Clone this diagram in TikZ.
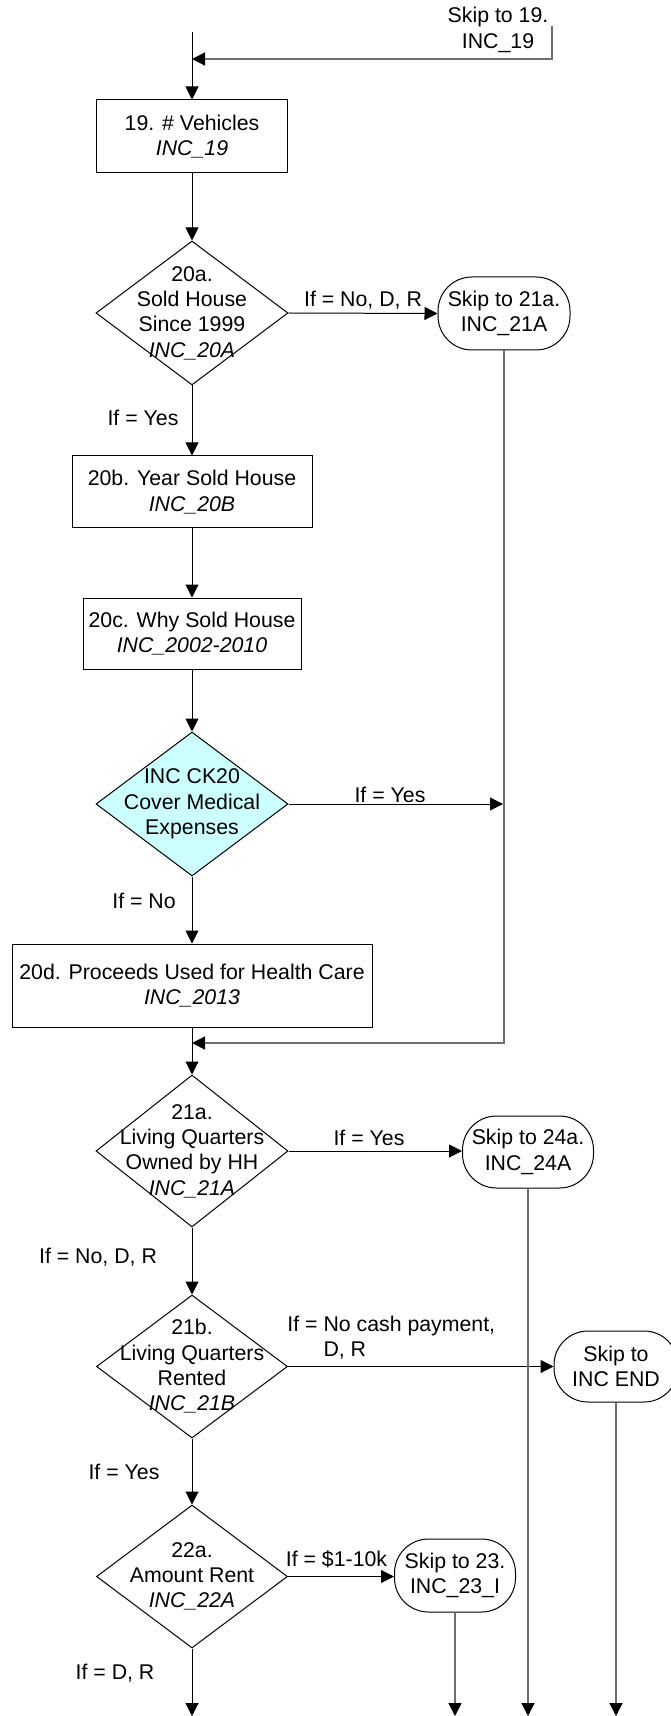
\documentclass[tikz,border=0pt]{standalone}
\usepackage{fontspec}
\setmainfont{Liberation Sans}
\usetikzlibrary{arrows.meta,shapes.geometric}
\definecolor{linegray}{RGB}{110,110,110}
\definecolor{ckcyan}{RGB}{204,255,255}
\newcommand{\flowfont}{\fontsize{10.65pt}{12.65pt}\selectfont}
\begin{document}
\begin{tikzpicture}[x=0.5pt,y=-0.5pt,
  base/.style={font=\flowfont, align=center, inner sep=0pt},
  proc/.style={base, draw=black, line width=0.5pt, rectangle},
  dec/.style={draw=black, line width=0.5pt, diamond, inner sep=0pt},
  skipbox/.style={base, draw=black, line width=0.5pt, rectangle, rounded corners=17pt},
  lbl/.style={base},
  arr/.style={draw=black, line width=0.5pt, -{Triangle[length=6.5pt,width=6.5pt]}},
  garr/.style={draw=linegray, line width=0.75pt, -{Triangle[length=6.5pt,width=6.5pt,color=black]}},
  gline/.style={draw=linegray, line width=0.75pt}
]
\useasboundingbox (0,0) rectangle (670,1716);

% top entry
\node[lbl] (skip19) at (498,30) {Skip to 19.\\INC\_19};
\coordinate (c19a) at (552,26);
\coordinate (c19m) at (192,59);
\coordinate (ctop) at (192,32);

% nodes
\node[proc, minimum width=95.5pt, minimum height=36.5pt] (b19) at (192,136.5) {19. \# Vehicles\\\textit{INC\_19}};
\node[dec, minimum width=96pt, minimum height=72pt] (d20a) at (192,313) {};
\node[lbl] (d20a-t) at (d20a) {20a.\\Sold House\\Since 1999\\\textit{INC\_20A}};
\node[skipbox, minimum width=66pt, minimum height=36.5pt] (s21a) at (504,313.5) {Skip to 21a.\\INC\_21A};
\node[proc, minimum width=120pt, minimum height=36pt] (b20b) at (192,492) {20b. Year Sold House\\\textit{INC\_20B}};
\node[proc, minimum width=109pt, minimum height=35.5pt] (b20c) at (192,633.5) {20c. Why Sold House\\\textit{INC\_2002-2010}};
\node[dec, fill=ckcyan, minimum width=96pt, minimum height=72pt] (dck20) at (192,804) {};
\node[lbl] (dck20-t) at (dck20) {INC CK20\\Cover Medical\\Expenses};
\node[proc, minimum width=180pt, minimum height=41.5pt] (b20d) at (192,985.5) {20d. Proceeds Used for Health Care\\\textit{INC\_2013}};
\node[dec, minimum width=96pt, minimum height=76pt] (d21a) at (192,1151) {};
\node[lbl] (d21a-t) at (d21a) {21a.\\Living Quarters\\Owned by HH\\\textit{INC\_21A}};
\node[skipbox, minimum width=65.5pt, minimum height=36pt] (s24a) at (528,1152) {Skip to 24a.\\INC\_24A};
\node[dec, minimum width=95.5pt, minimum height=71.5pt] (d21b) at (192,1366.5) {};
\node[lbl] (d21b-t) at (d21b) {21b.\\Living Quarters\\Rented\\\textit{INC\_21B}};
\node[skipbox, minimum width=62pt, minimum height=35.5pt] (send) at (616,1366.5) {Skip to\\INC END};
\node[dec, minimum width=95.5pt, minimum height=71.5pt] (d22a) at (192,1576.5) {};
\node[lbl] (d22a-t) at (d22a) {22a.\\Amount Rent\\\textit{INC\_22A}};
\node[skipbox, minimum width=60.5pt, minimum height=36.5pt] (s23) at (455,1575.5) {Skip to 23.\\INC\_23\_I};

% junction / free-end coordinates
\coordinate (jck) at (503,804);
\coordinate (mergeL) at (192,1043);
\coordinate (e1) at (192,1716);
\coordinate (e2) at (455,1716);
\coordinate (e3) at (528,1716);
\coordinate (e4) at (616,1716);

% connectors
\draw[garr] (c19a) |- (c19m);
\draw[arr] (ctop) -- (b19.north);
\draw[arr] (b19) -- (d20a);
\draw[arr] (d20a.east) -- (s21a.west);
\draw[arr] (d20a) -- (b20b);
\draw[arr] (b20b) -- (b20c);
\draw[arr] (b20c) -- (dck20);
\draw[arr] (dck20.east) -- (jck);
\draw[arr] (dck20) -- (b20d);
\draw[garr] (s21a.south) |- (mergeL);
\draw[arr] (b20d) -- (d21a);
\draw[arr] (d21a.east) -- (d21a.east -| s24a.west);
\draw[arr] (d21a) -- (d21b);
\draw[arr] (d21b.east) -- (send.west);
\draw[arr] (d21b) -- (d22a);
\draw[arr] (d22a.east) -- (d22a.east -| s23.west);
\draw[arr] (d22a.south) -- (e1);
\draw[garr] (s23.south) -- (e2);
\draw[garr] (s24a.south) -- (e3);
\draw[garr] (send.south) -- (e4);

% labels
\node[lbl] (l1) at (363,300) {If = No, D, R};
\node[lbl] (l2) at (143,418) {If = Yes};
\node[lbl] (l3) at (390,795) {If = Yes};
\node[lbl] (l4) at (144,901) {If = No};
\node[lbl] (l5) at (369,1138) {If = Yes};
\node[lbl] (l6) at (98,1257) {If = No, D, R};
\node[lbl, anchor=west, align=left] (l7) at (287,1337.5) {If = No cash payment,\\\phantom{If = }D, R};
\node[lbl] (l8) at (124,1472) {If = Yes};
\node[lbl] (l9) at (336.5,1559) {If = \$1-10k};
\node[lbl] (l10) at (115,1673) {If = D, R};
\end{tikzpicture}
\end{document}
